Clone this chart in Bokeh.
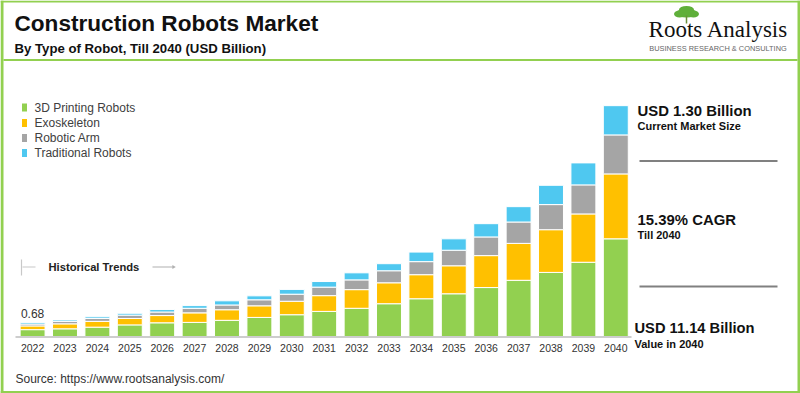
from bokeh.plotting import figure
from bokeh.models import Range1d, ColumnDataSource
from bokeh.core.properties import value
from bokeh.embed import file_html
from bokeh.resources import INLINE

# ---------------- data ----------------
years = [2022, 2023, 2024, 2025, 2026, 2027, 2028, 2029, 2030, 2031,
         2032, 2033, 2034, 2035, 2036, 2037, 2038, 2039, 2040]
year_labels = [str(y) for y in years]
series_names = ["3D Printing Robots", "Exoskeleton", "Robotic Arm", "Traditional Robots"]
printing_3d = [0.33, 0.37, 0.45, 0.56, 0.66, 0.68, 0.78, 0.92, 1.05, 1.21,
               1.36, 1.58, 1.82, 2.06, 2.36, 2.71, 3.09, 3.58, 4.71]
exoskeleton = [0.18, 0.24, 0.28, 0.31, 0.35, 0.46, 0.51, 0.56, 0.65, 0.76,
               0.90, 1.01, 1.16, 1.35, 1.54, 1.78, 2.06, 2.33, 3.13]
robotic_arm = [0.09, 0.12, 0.14, 0.16, 0.17, 0.22, 0.23, 0.29, 0.34, 0.41,
               0.47, 0.58, 0.63, 0.75, 0.90, 1.03, 1.21, 1.40, 1.88]
traditional = [0.08, 0.07, 0.08, 0.09, 0.12, 0.13, 0.20, 0.19, 0.23, 0.27,
               0.34, 0.34, 0.46, 0.55, 0.64, 0.74, 0.93, 1.06, 1.41]
first_label = "0.68"
colors = ["#92D050", "#FFC000", "#A5A5A5", "#4FC8F0"]

# ---------------- layout helpers ----------------
W, H = 800, 393
def X(v): return v
def Y(v): return v

FONT = "Liberation Sans"
TXT = "#333333"

# main data ranges chosen so bars sit where the reference draws them
px_per_year = 32.4
x0 = years[0] - 32.1 / px_per_year
x1 = x0 + W / px_per_year
px_per_unit = 20.74
base_from_bottom = H - 336
y0 = -base_from_bottom / px_per_unit
y1 = y0 + H / px_per_unit

p = figure(width=W, height=H, output_backend="svg", toolbar_location=None,
           x_range=Range1d(x0, x1), y_range=Range1d(y0, y1),
           min_border=0, min_border_left=0, min_border_right=0,
           min_border_top=0, min_border_bottom=0)
p.extra_x_ranges = {"px": Range1d(0, W)}
p.extra_y_ranges = {"px": Range1d(H, 0)}
p.xaxis.visible = False
p.yaxis.visible = False
p.xgrid.visible = False
p.ygrid.visible = False
p.outline_line_color = None
p.background_fill_color = "white"
p.border_fill_color = "white"

def ptext(x, y, t, size, bold=False, color=TXT, align="left", baseline="middle", font=FONT):
    p.text(x=[X(x)], y=[Y(y)], text=[t], x_range_name="px", y_range_name="px",
           text_font=value(font), text_font_size=f"{size}px",
           text_font_style="bold" if bold else "normal", text_color=color,
           text_align=align, text_baseline=baseline)

def pline(xs, ys, color, width):
    p.line(x=[X(v) for v in xs], y=[Y(v) for v in ys], x_range_name="px", y_range_name="px",
           line_color=color, line_width=width)

# ---------------- frame / header ----------------
G = "#92D050"
p.quad(left=[0, 0, 797, 0], right=[3, W, W, W],
       top=[0, 0, 0, 390.5], bottom=[H, 2, H, H],
       x_range_name="px", y_range_name="px", fill_color=G, line_color=None)
pline([3, 797], [59.5, 59.5], G, 2.2)

ptext(14, 23, "Construction Robots Market", 22.6, bold=True, color="#111111")
ptext(14, 48, "By Type of Robot, Till 2040 (USD Billion)", 13.2, bold=True, color="#111111")

# logo
p.ellipse(x=[686, 679, 693, 686], y=[12.5, 13.5, 13.5, 9],
          width=[20, 11, 11, 15], height=[9, 7, 7, 7],
          x_range_name="px", y_range_name="px", fill_color="#5FAF3A", line_color=None)
pline([686, 686], [15, 23], "#6a8f3a", 1.5)
ptext(718, 29, "Roots Analysis", 23, color="#111111", align="center",
      font="Liberation Serif")
ptext(717.5, 47.5, "BUSINESS RESEARCH & CONSULTING", 7.4, color="#666666", align="center")

# ---------------- legend ----------------
leg_y = [107, 122.5, 137.5, 152.5]
for name, c, ly in zip(series_names, colors, leg_y):
    p.quad(left=[21.5], right=[26.5], top=[ly - 4], bottom=[ly + 4],
           x_range_name="px", y_range_name="px", fill_color=c, line_color=None)
    ptext(34, ly, name, 12, color="#404040")

# ---------------- historical trends marker ----------------
pline([21, 21], [259, 275], "#c8c8c8", 1.2)
pline([22, 35], [266.5, 266.5], "#c8c8c8", 1.2)
ptext(48, 266.5, "Historical Trends", 11.2, bold=True, color="#222222")
pline([152, 173], [266.5, 266.5], "#b0b0b0", 1.2)
p.scatter(x=[173], y=[266.5], marker="triangle", angle=-1.5708, size=4,
          x_range_name="px", y_range_name="px", fill_color="#b0b0b0", line_color=None)

# ---------------- stacked bars ----------------
src = ColumnDataSource(dict(year=years, s0=printing_3d, s1=exoskeleton,
                            s2=robotic_arm, s3=traditional))
p.vbar_stack(["s0", "s1", "s2", "s3"], x="year", width=0.77, color=colors,
             line_color="white", line_width=1, source=src)

# baseline
pline([15, 631], [336.5, 336.5], "#bdbdbd", 1.5)

# year labels
p.text(x=years, y=[347] * len(years), text=year_labels, y_range_name="px",
       text_font=value(FONT), text_font_size="10.5px", text_color=TXT,
       text_align="center", text_baseline="middle")

# first value label
tot0 = printing_3d[0] + exoskeleton[0] + robotic_arm[0] + traditional[0]
p.text(x=[years[0]], y=[tot0], text=[first_label], y_offset=-4,
       text_font=value(FONT), text_font_size="12px", text_color=TXT,
       text_align="center", text_baseline="bottom")

# ---------------- right annotations ----------------
ptext(637, 110, "USD 1.30 Billion", 14.9, bold=True, color="#111111")
ptext(637, 125.5, "Current Market Size", 11, bold=True, color="#111111")
pline([639, 777], [160.5, 160.5], "#808080", 2)
ptext(637, 219, "15.39% CAGR", 14.9, bold=True, color="#111111")
ptext(637, 234.5, "Till 2040", 11, bold=True, color="#111111")
pline([639, 777], [286, 286], "#808080", 2)
ptext(634, 327.5, "USD 11.14 Billion", 14.7, bold=True, color="#111111")
ptext(634, 343, "Value in 2040", 11, bold=True, color="#111111")

# ---------------- source ----------------
ptext(15, 378, "Source: https://www.rootsanalysis.com/", 12, color="#333333")

open("out.html", "w").write(file_html(p, INLINE))
